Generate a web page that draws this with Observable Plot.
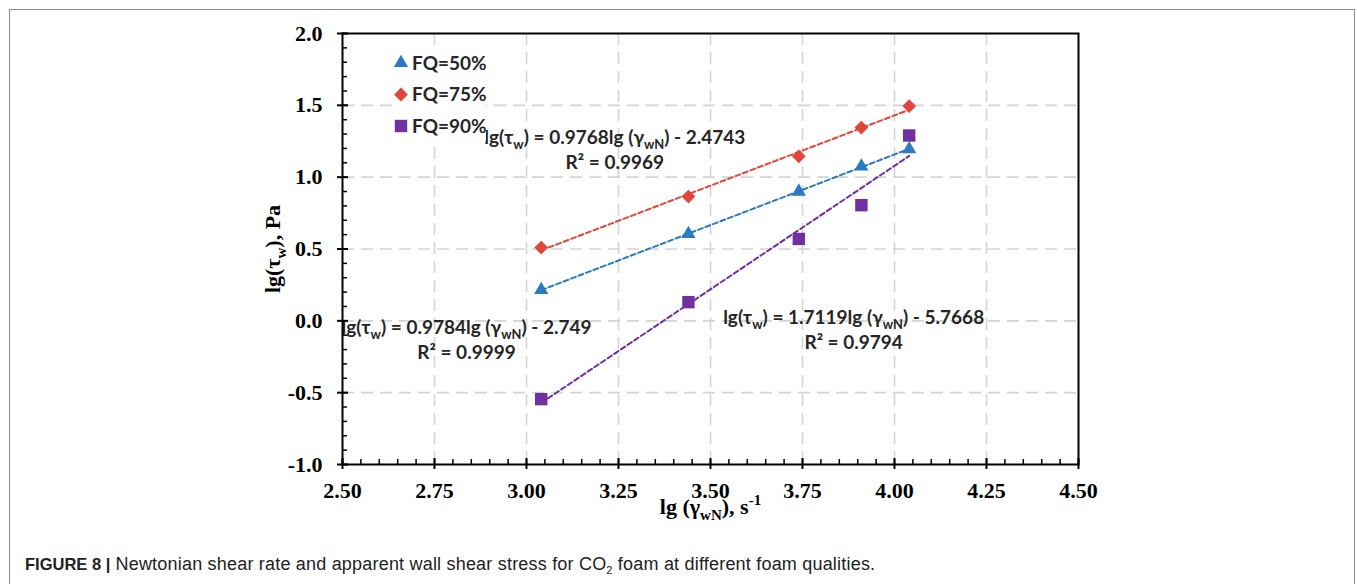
<!DOCTYPE html>
<html>
<head>
<meta charset="utf-8">
<script src="https://cdn.jsdelivr.net/npm/d3@7"></script>
<script src="https://cdn.jsdelivr.net/npm/@observablehq/plot@0.6"></script>
<style>
  html, body { margin: 0; padding: 0; background: #fff; }
  #wrap { position: relative; width: 1357px; height: 584px; overflow: hidden; }
  #border { position: absolute; left: 9px; top: 9px; width: 1346px; height: 620px; border: 1px solid #8a8a8a; box-sizing: border-box; }
  #chart { position: absolute; left: 0; top: 0; }
  #legend { position: absolute; left: 392px; top: 47px; width: 94px; height: 94px; background: #fff; }
  #caption { position: absolute; left: 25px; top: 554px; font-family: "Liberation Sans", Arial, sans-serif; font-size: 18px; letter-spacing: 0.2px; color: #222; white-space: nowrap; }
  #caption b { font-weight: bold; font-size: 16.5px; letter-spacing: 0; }
  #caption sub { font-size: 11px; vertical-align: -4px; line-height: 0; }
</style>
</head>
<body>
<div id="wrap">
  <div id="border"></div>
  <div id="chart"></div>
  <div id="legend"></div>
  <div id="caption"><b>FIGURE 8 |</b> Newtonian shear rate and apparent wall shear stress for CO<sub>2</sub> foam at different foam qualities.</div>
</div>
<script>
// ---- data ----
const xValues = [3.04, 3.44, 3.74, 3.91, 4.04];
const fq50 = [0.215, 0.605, 0.90, 1.075, 1.195];
const fq75 = [0.51, 0.865, 1.145, 1.345, 1.495];
const fq90 = [-0.545, 0.13, 0.57, 0.805, 1.29];
const seriesNames = ["FQ=50%", "FQ=75%", "FQ=90%"];
const seriesColors = ["#2a7bc1", "#e2453b", "#7030a0"];
const seriesSymbols = ["triangle", "diamond2", "square"];
const seriesRadius = [5.3, 6.2, 7.0];
const xTicks = [2.5, 2.75, 3.0, 3.25, 3.5, 3.75, 4.0, 4.25, 4.5];
const yTicks = [-1.0, -0.5, 0.0, 0.5, 1.0, 1.5, 2.0];
const xMinorTicks = d3.range(2.5, 4.5001, 0.05).map(v => +v.toFixed(2));
const yMinorTicks = d3.range(-1, 2.0001, 0.1).map(v => +v.toFixed(1));
const xLabel = "lg (γ_{wN}), s^{-1}";
const yLabel = "lg(τ_{w}), Pa";
const eqLine1 = [
  "lg(τ_{w}) = 0.9768lg (γ_{wN}) - 2.4743",
  "lg(τ_{w}) = 0.9784lg (γ_{wN}) - 2.749",
  "lg(τ_{w}) = 1.7119lg (γ_{wN}) - 5.7668"
];
const eqLine2 = ["R² = 0.9969", "R² = 0.9999", "R² = 0.9794"];
const eqX = [3.24, 2.837, 3.889];
const eqY = [1.276, -0.046, 0.023];

// ---- table ----
const seriesValues = [fq50, fq75, fq90];
const rows = seriesNames.flatMap((name, i) =>
  xValues.map((x, j) => ({series: name, x, y: seriesValues[i][j]})));
const eqRows = eqLine1.map((t, i) => ({x: eqX[i], y: eqY[i], l1: t, l2: eqLine2[i]}));

const W = 1357, H = 520;
const mL = 342, mR = 279, mT = 33, mB = 56;
const innerW = W - mL - mR, innerH = H - mT - mB;
const serif = "'Liberation Serif', 'Times New Roman', serif";
const eqFont = "Lato, 'Open Sans', sans-serif";

const chart = Plot.plot({
  width: W, height: H,
  marginLeft: mL, marginRight: mR, marginTop: mT, marginBottom: mB,
  x: {domain: [2.5, 4.5]},
  y: {domain: [-1, 2]},
  color: {domain: seriesNames, range: seriesColors},
  symbol: {domain: seriesNames, range: seriesSymbols},
  style: {background: "transparent", overflow: "visible"},
  marks: [
    Plot.gridX(xTicks.slice(1, -1), {stroke: "#d4d4d4", strokeOpacity: 1, strokeWidth: 1.6, strokeDasharray: "12,7"}),
    Plot.gridY(yTicks.slice(1, -1), {stroke: "#d4d4d4", strokeOpacity: 1, strokeWidth: 1.6, strokeDasharray: "12,7"}),
    Plot.linearRegressionY(rows, {x: "x", y: "y", stroke: "series", ci: 0, strokeWidth: 2, strokeDasharray: "5,3"}),
    ...seriesNames.map((name, i) =>
      Plot.dot(rows.filter(d => d.series === name), {x: "x", y: "y", symbol: "series", fill: "series", r: seriesRadius[i], stroke: "none"})),
    Plot.text(eqRows, {x: "x", y: "y", text: "l1", textAnchor: "middle", fontFamily: eqFont, fontWeight: "bold", fontSize: 19, fill: "#262626"}),
    Plot.text(eqRows, {x: "x", y: "y", text: "l2", textAnchor: "middle", dy: 25, fontFamily: eqFont, fontWeight: "bold", fontSize: 19, fill: "#262626"}),
    Plot.frame({stroke: "#000", strokeWidth: 2}),
    // major ticks crossing the axes, minor ticks inside
    Plot.tickY(yTicks, {y: d => d, stroke: "#000", strokeWidth: 2, insetRight: innerW - 11, dx: -5}),
    Plot.tickY(yMinorTicks, {y: d => d, stroke: "#000", strokeWidth: 1.5, insetRight: innerW - 5}),
    Plot.tickX(xTicks, {x: d => d, stroke: "#000", strokeWidth: 2, insetTop: innerH - 11, dy: 5}),
    Plot.tickX(xMinorTicks, {x: d => d, stroke: "#000", strokeWidth: 1.5, insetTop: innerH - 5}),
    Plot.axisX(xTicks, {tickSize: 0, tickPadding: 18, tickFormat: d => d.toFixed(2), fontSize: 22, fontWeight: "bold", fontFamily: serif, fill: "#000", label: null}),
    Plot.axisY(yTicks, {tickSize: 0, tickPadding: 20, tickFormat: d => d.toFixed(1), fontSize: 22, fontWeight: "bold", fontFamily: serif, fill: "#000", label: null}),
    Plot.text([yLabel], {frameAnchor: "left", textAnchor: "middle", lineAnchor: "middle", dx: -70, rotate: -90, fontSize: 22, fontWeight: "bold", fontFamily: serif, fill: "#000"}),
    Plot.text([xLabel], {frameAnchor: "bottom", textAnchor: "middle", lineAnchor: "middle", dy: 42, fontSize: 22, fontWeight: "bold", fontFamily: serif, fill: "#000"})
  ]
});
document.getElementById("chart").appendChild(chart);

// sub/superscript rendering for text marks containing _{..} or ^{..}
function richify(svg) {
  svg.querySelectorAll("text").forEach(t => {
    const s = t.textContent;
    if (!/[_^]\{/.test(s) || t.querySelector("tspan")) return;
    const base = parseFloat(getComputedStyle(t).fontSize) || 16;
    const parts = [];
    const re = /([_^])\{([^}]*)\}/g;
    let last = 0, m;
    while ((m = re.exec(s))) {
      if (m.index > last) parts.push({t: s.slice(last, m.index), k: ""});
      parts.push({t: m[2], k: m[1]});
      last = re.lastIndex;
    }
    if (last < s.length) parts.push({t: s.slice(last), k: ""});
    t.textContent = "";
    let shift = 0;
    const ns = "http://www.w3.org/2000/svg";
    parts.forEach(p => {
      const sp = document.createElementNS(ns, "tspan");
      let target = p.k === "_" ? 0.28 * base : p.k === "^" ? -0.38 * base : 0;
      const dy = target - shift;
      if (dy !== 0) sp.setAttribute("dy", dy.toFixed(2));
      shift = target;
      if (p.k) sp.setAttribute("font-size", (0.68 * base).toFixed(1));
      sp.textContent = p.t;
      t.appendChild(sp);
    });
  });
}
richify(chart);

// legend
const legend = d3.select("#legend");
const lsvg = legend.append("svg").attr("width", 94).attr("height", 94).style("overflow", "visible");
seriesNames.forEach((name, i) => {
  const cy = 16 + i * 31.5;
  const size = Math.PI * seriesRadius[i] * seriesRadius[i];
  const sym = {triangle: d3.symbolTriangle, diamond2: d3.symbolDiamond2, square: d3.symbolSquare}[seriesSymbols[i]];
  lsvg.append("path").attr("d", d3.symbol(sym, size)()).attr("transform", `translate(9,${cy})`).attr("fill", seriesColors[i]);
  lsvg.append("text").attr("x", 20).attr("y", cy).attr("dy", "0.35em")
    .attr("font-family", "Lato, 'Open Sans', sans-serif").attr("font-weight", "bold").attr("font-size", 19)
    .attr("fill", "#262626").text(name);
});
</script>
</body>
</html>
